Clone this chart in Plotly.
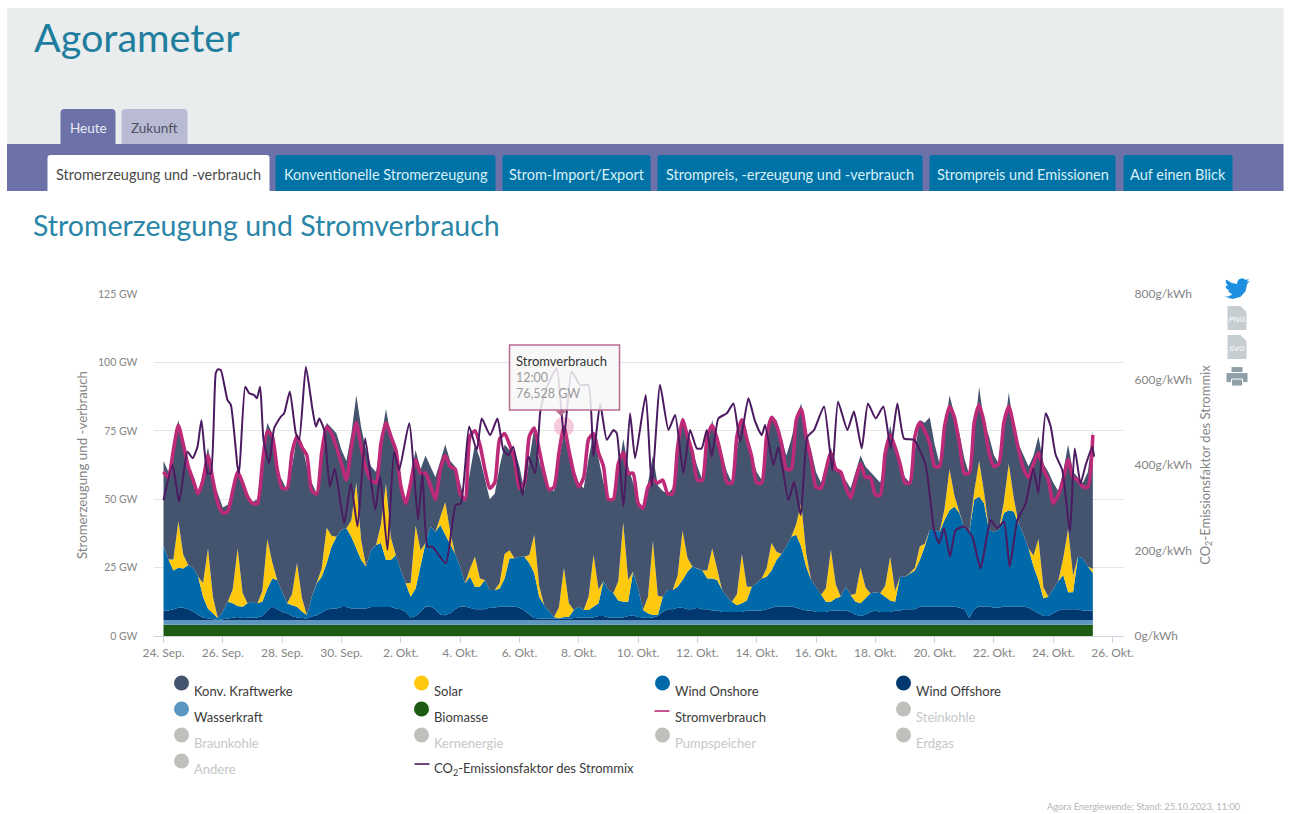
import numpy as np
import pandas as pd
import plotly.graph_objects as go

# the picture shows the page scaled about the window centre; these constants place page pixels
W, H = 1314, 829
S, X0, Y0 = 0.984, -1.5, -1.4
FONT = "Lato"
DARK = "#3a3a3a"

# ---- data, 4-hourly from 24 Sep 2023 00:00, one row per day (GW) ----
start = "2023-09-24 00:00"
gesamt = [
 64,60,70,79,70,62, 57,52,60,69,57,52, 47,48,54,60,57,52, 49,50,65,78,74,60,
 57,53,62,73,70,62, 56,52,65,78,76,74, 68,64,74,88,76,68, 62,60,72,83,73,66,
 55,48,58,68,61,66, 62,58,64,70,64,62, 56,49,60,70,65,57, 50,52,62,70,68,68,
 62,53,65,76,64,58, 54,53,64,74,66,61, 56,54,65,74,65,56, 50,50,60,72,62,56,
 50,46,56,66,55,53, 52,54,66,80,73,68, 62,57,69,79,70,66, 60,56,68,79,70,66,
 60,57,70,80,79,72, 66,72,80,85,74,68, 60,56,62,69,62,60, 57,54,60,66,62,60,
 58,56,66,77,68,62, 58,56,68,79,78,80, 70,63,74,88,81,74, 65,59,74,91,78,73,
 66,63,74,89,76,70, 66,62,66,73,63,60, 56,53,60,70,60,58, 56,60,75]
stromverbrauch = [
 60,58,68,77,70,62, 57,52,57,66,57,48.5, 45,45.5,53,60,56,51, 48.5,48.5,63,75,73,61,
 54,54,67,73,69,66, 53,52,67,76.5,74,69, 63,57,69,78,69,61, 57,56,70.5,78,73,68,
 55,48.5,56,64.5,59.5,59.5, 55,50,61,66,62,61, 52,50,73,75,70,61, 54,56,72,74,70,64.5,
 54,56,73,76,68,59.5, 53.5,54.5,67,76.5,68,59.5, 54.5,58,72,74,67,62, 50,50,63,67,59.5,59.5,
 48.5,46.7,54.5,57,56,57, 52,52,69,79,73,67, 57,57,73,77,72,64.5, 56,56,73,79,72,65.5,
 56,56,73,80,77,70.5, 61,61,79,83,73,64.5, 54.5,54,60.7,67,61,60, 54.5,50.4,57,63,58,58,
 51.6,51.6,67,73.5,69,63, 56,56,73,78,75,70.5, 62,62,76.6,84,80,70.5, 59.5,59.5,78,84.5,78,67,
 62,63,78,84,76.6,68, 61,58,63,67,61,57, 48.5,51.6,57,64.5,58,57, 54.5,54.5,73.5]
onshore_oberkante = [
 33,28,24,25,24.7,26, 25,21.7,14.4,10,8.3,6.5, 9,12.5,12,11,10.7,12, 12.5,12,12.5,17.4,21,20.5,
 16,12,11.3,10.7,9,7.7, 14.4,19.3,21.7,26.6,32.7,36.3, 38.8,39.4,36.3,32,27.8,25.4, 31.5,33.3,34,27.8,27.8,29.6,
 24,19.3,14.4,17.4,25.4,34, 40,38,40.6,37,34,30, 25.4,19.3,21.7,18,18,20.5, 16.8,16.8,17.4,21,28.4,28.4,
 29,29,26.6,23,14.4,11.3, 9,7,6.5,7,7,9.5, 10.7,9.5,9.5,10.7,12,20, 17,15.6,13,12.5,12.5,23.5,
 17.4,9.5,8.3,7.7,7.7,14.4, 16.8,16.8,18,20.5,23.5,25.4, 24.8,24,21,21,20.5,16.8, 14.4,12.5,11.3,12,13,18,
 19.3,21,21.7,24,27.8,30, 32.7,36.3,37,32.7,25.4,20.5, 18,15,12.5,12.5,13.8,14.4, 18,15,12.5,12,13.8,15.6,
 16,15.6,14.4,13,12.5,21.7, 21.7,23,24,27.8,32.7,38.8, 38.8,38,42.4,46,47.3,45, 39.4,38,49.8,51,48.5,38.8,
 38,38.8,45,46,45.5,41, 37,32,25.4,20.5,13.8,14.4, 17.4,20,22.3,16,16,29, 28.4,25.4,23]
solar = [
 0,0,4,17,5,0, 0,0,5,22,6,0, 0,0,5,21,5,0, 0,0,4,18,6,0,
 0,0,4,16,5,0, 0,0,3,13,4,0, 0,0,6,24,7,0, 0,0,7,28,8,0,
 0,0,5,23,6,0, 0,0,3,12,4,0, 0,0,3,11,3,0, 0,0,2,9,3,0,
 0,0,3,14,4,0, 0,0,4,18,5,0, 0,0,5,19,5,0, 0,0,7,29,8,0,
 0,0,6,27,7,0, 0,0,4,18,5,0, 0,0,3,11,4,0, 0,0,4,18,5,0,
 0,0,3,10,3,0, 0,0,4,16,5,0, 0,0,5,19,5,0, 0,0,3,13,4,0,
 0,0,4,16,4,0, 0,0,1,5,1,0, 0,0,4,15,4,0, 0,0,3,13,4,0,
 0,0,4,17,5,0, 0,0,4,15,4,0, 0,0,6,23,6,0, 0,0,1.5]
wind_offshore = [
 3.5,3.5,4,4.5,4.5,4, 3.2,1.9,1,.6,.3,.1, .4,.8,1,1.2,.8,.8, .8,1,1.5,3.5,5,4,
 3,2.5,1.5,1,.7,.6, 1.5,2,3,4,4.5,4.5, 5,5,4.5,4.5,4.5,4.5, 5,5,5,5,5,4.5,
 4,3,1,1.5,3,5, 5,4,2,1.8,2.5,4, 5,5,4.5,4,4,4, 4.5,4.5,5,5,5,5,
 4.5,3.5,2,.8,.6,.6, .6,.5,.5,.5,.5,.8, 1,1,1,1,1.5,1.5, 1,1,1,1,1.5,1.8,
 1.2,1,.8,1,1.5,3, 4,4,4.5,4.5,4,4, 4.5,4,4,3.5,3.5,3, 3,3,3,3,3.5,3.5,
 3.5,3.5,4,4.5,5,5, 5,5,4.5,4,3.5,3.5, 3,3,3,3.5,3.5,3.5, 3.5,3,2,1.5,2,3,
 3.5,3,3,3,3.5,3.5, 4,4,4,5,5,5, 5,5,5,5,5,4.5, 4,.8,4,5,5,5,
 4.5,4.5,5,5,5,5, 5,4.5,3.5,2.5,1.5,1.5, 2.5,3.5,4,4,4,4, 3.5,3.5,3.5]
# daily level of the two flat bands (GW)
biomasse_tag = [4.1,4.0,4.0,4.1,4.1,4.0,4.0,4.0,4.1,4.1,4.1,4.2,4.2,4.0,4.0,4.1,4.1,
                4.2,4.2,4.2,4.2,4.1,4.0,4.0,4.1,4.1,4.1,4.2,4.2,4.1,4.1,4.1]
wasser_tag = [1.7,1.8,1.8,1.7,1.7,1.6,1.6,1.6,1.7,1.7,1.7,1.6,1.6,1.8,1.8,1.7,1.7,
              1.6,1.6,1.6,1.6,1.7,1.8,1.8,1.7,1.7,1.7,1.6,1.6,1.7,1.7,1.7]

# CO2 factor: hours since start, g/kWh
co2_stunden = [0,7.3,12.7,19.4,23.5,27.5,30.7,35.6,38.3,42.3,44.2,46.4,51.8,54.5,59.9,61.2,66.1,69.3,73.4,75.5,78.2,80.9,
 85.5,89.5,94.9,97.6,102.2,107.1,109.8,115.2,120.6,123.3,126,130,134.6,138.6,146.2,151.6,157,163.2,171.3,175.3,181.2,186.6,
 190.7,198.8,206,209.5,213.6,217.6,228.4,236.5,240.6,247.3,253.5,257.5,264.3,270.2,275,279,283,290.4,295.3,300.7,304.7,306.1,
 311.5,318.2,324.1,330.3,337.1,343.8,347.9,353.3,358.7,364.1,366.8,372.2,377.5,381.6,390.2,395.1,401.8,408.6,414,420.7,426.1,
 431.5,435.5,439.6,443.6,449,455.8,461.2,466.5,473.3,478.7,484.1,486.8,493.5,497.6,505.7,510.2,515.6,521,526.4,534.5,541.2,
 545.8,553.4,558.7,565,570,576.3,582.5,588.4,593.8,599.2,607.3,616.7,623.5,627.5,631.6,636.4,641,647.7,654.5,661.2,669.3,
 674.7,680.1,684.7,690.9,697.6,703.8,707.9,713.8,717.9,721.9,727.3,733.5,737.3,742.1,746.2,751.6,753]
co2_werte = [318,400,314,431,416,443,505,381,381,615,624,622,552,541,396,381,583,568,564,556,583,459,
 404,486,513,521,572,474,459,630,529,490,509,482,349,392,264,357,256,463,295,373,201,431,
 388,498,271,381,209,209,170,307,310,490,435,509,470,509,435,423,443,330,420,381,521,544,
 591,626,466,619,587,587,420,544,459,482,474,303,521,416,564,349,587,482,517,381,482,
 439,439,482,420,509,521,544,455,556,502,470,494,400,443,318,361,283,466,482,537,388,
 548,482,525,439,544,509,537,439,544,462,459,400,248,217,252,186,248,256,232,158,271,
 252,268,162,271,310,392,334,521,490,424,388,244,439,357,400,443,420]

x_tick_datum = ["2023-09-24","2023-09-26","2023-09-28","2023-09-30","2023-10-02","2023-10-04","2023-10-06","2023-10-08",
                "2023-10-10","2023-10-12","2023-10-14","2023-10-16","2023-10-18","2023-10-20","2023-10-22","2023-10-24","2023-10-26"]
x_tick_text = ["24. Sep.","26. Sep.","28. Sep.","30. Sep.","2. Okt.","4. Okt.","6. Okt.","8. Okt.",
               "10. Okt.","12. Okt.","14. Okt.","16. Okt.","18. Okt.","20. Okt.","22. Okt.","24. Okt.","26. Okt."]
y_ticks = [0,25,50,75,100,125]
y_tick_text = ["0 GW","25 GW","50 GW","75 GW","100 GW","125 GW"]
y2_ticks = [0,200,400,600,800]
y2_tick_text = ["0g/kWh","200g/kWh","400g/kWh","600g/kWh","800g/kWh"]
hover_zeit = ["2023-10-07 12:00"]
hover_wert = [76.528]
tabs_oben = [("Heute", 60, 115, "#6c71a8", "#e8ecf4"), ("Zukunft", 121, 187, "#b9bbd5", "#4d5060")]
tabs_unten = [("Stromerzeugung und -verbrauch", 47, 269), ("Konventionelle Stromerzeugung", 275, 495),
              ("Strom-Import/Export", 502, 650), ("Strompreis, -erzeugung und -verbrauch", 657, 922),
              ("Strompreis und Emissionen", 929, 1115), ("Auf einen Blick", 1123, 1232)]
legende = [
 ("Konv. Kraftwerke", 181, 683, "#44546e", True), ("Solar", 421, 683, "#ffc90e", True),
 ("Wind Onshore", 662, 683, "#0069aa", True), ("Wind Offshore", 903, 683, "#00386f", True),
 ("Wasserkraft", 181, 709, "#5b96c0", True), ("Biomasse", 421, 709, "#1e5c14", True),
 ("Steinkohle", 903, 709, "#bfc0bc", False), ("Braunkohle", 181, 735, "#bfc0bc", False),
 ("Kernenergie", 421, 735, "#bfc0bc", False), ("Pumpspeicher", 662, 735, "#bfc0bc", False),
 ("Erdgas", 903, 735, "#bfc0bc", False), ("Andere", 181, 761, "#bfc0bc", False)]

# ---- derived ----
zeit = pd.date_range(start, periods=len(gesamt), freq="4h")
biomasse = np.repeat(biomasse_tag, 6)[:len(zeit)]
wasser = np.repeat(wasser_tag, 6)[:len(zeit)]
offshore = np.array(wind_offshore, float)
onshore = np.maximum(np.array(onshore_oberkante, float) - biomasse - wasser - offshore, 0)
solar_a = np.array(solar, float)
konv = np.array(gesamt, float) - biomasse - wasser - offshore - onshore - solar_a
co2_zeit = pd.Timestamp(start) + pd.to_timedelta(co2_stunden, unit="h")

fx = lambda p: (p - X0) / (S * W)
fy = lambda p: 1 - ((p - (636 - p) / 486) - Y0) / (S * H)

fig = go.Figure()
for name, vals, col in [("Biomasse", biomasse, "#1e5c14"), ("Wasserkraft", wasser, "#5b96c0"),
                        ("Wind Offshore", offshore, "#00386f"), ("Wind Onshore", onshore, "#0069aa"),
                        ("Solar", solar_a, "#ffc90e"), ("Konv. Kraftwerke", konv, "#44546e")]:
    fig.add_trace(go.Scatter(x=zeit, y=vals, name=name, stackgroup="erz", mode="lines",
                             line=dict(width=0, color=col), fillcolor=col))
fig.add_trace(go.Scatter(x=zeit, y=stromverbrauch, name="Stromverbrauch", mode="lines",
                         line=dict(color="#bd2a78", width=3.6, shape="spline", smoothing=0.6)))
fig.add_trace(go.Scatter(x=co2_zeit, y=co2_werte, name="CO2-Emissionsfaktor des Strommix", mode="lines", yaxis="y2",
                         line=dict(color="#4b1a60", width=2, shape="spline", smoothing=0.5)))
fig.add_trace(go.Scatter(x=hover_zeit, y=hover_wert, mode="markers", showlegend=False,
                         marker=dict(size=20, color="rgba(225,90,150,0.32)", line=dict(width=0))))

shapes, ann = [], []
def rect(x0, y0, x1, y1, col, layer="below", line=None):
    shapes.append(dict(type="rect", xref="paper", yref="paper", x0=fx(x0), x1=fx(x1), y0=fy(y0), y1=fy(y1),
                       fillcolor=col, layer=layer, line=line or dict(width=0)))
def path(points, col, layer="below", close=True):
    d = "M " + " L ".join(f"{fx(a):.5f},{fy(b):.5f}" for a, b in points) + (" Z" if close else "")
    shapes.append(dict(type="path", xref="paper", yref="paper", path=d, fillcolor=col, layer=layer, line=dict(width=0)))
def tab(x0, x1, y0, y1, col, r=4):
    d = (f"M {fx(x0)},{fy(y1)} L {fx(x0)},{fy(y0+r)} Q {fx(x0)},{fy(y0)} {fx(x0+r)},{fy(y0)} "
         f"L {fx(x1-r)},{fy(y0)} Q {fx(x1)},{fy(y0)} {fx(x1)},{fy(y0+r)} L {fx(x1)},{fy(y1)} Z")
    shapes.append(dict(type="path", xref="paper", yref="paper", path=d, fillcolor=col, layer="below", line=dict(width=0)))
PAD = {"left": -2.5, "right": 2, "center": 0}
def text(s, x, y, size, col, anchor="left", angle=0, family=FONT, **kw):
    ann.append(dict(text=s, x=fx(x + PAD[anchor]), y=fy(y), xref="paper", yref="paper", xanchor=anchor, yanchor="middle",
                    showarrow=False, textangle=angle, font=dict(size=size, color=col, family=family), **kw))
def circle(cx, cy, r, col, layer="below"):
    shapes.append(dict(type="circle", xref="paper", yref="paper", x0=fx(cx-r), x1=fx(cx+r), y0=fy(cy-r), y1=fy(cy+r),
                       fillcolor=col, layer=layer, line=dict(width=0)))

# page header
rect(6.5, 8, 1283, 144, "#e9eded")
rect(6.5, 144, 1283, 191, "#6c71a8")
text("Agorameter", 34, 36, 39.5, "#1f7d9e")
for name, a, b, col, tc in tabs_oben:
    tab(a, b, 109, 144, col)
    text(name, (a+b)/2, 128, 13.5, tc, anchor="center")
for i, (name, a, b) in enumerate(tabs_unten):
    tab(a, b, 155, 191, "#ffffff" if i == 0 else "#0072a6", r=3)
    text(name, (a+b)/2, 174, 14.5, "#4a4a4a" if i == 0 else "#d5f0f6", anchor="center")
text("Stromerzeugung und Stromverbrauch", 33, 225, 28.5, "#2a86a8")

# icons
bird = [(24,4.6),(21.1,5.3),(23.3,2.6),(20.2,3.8),(18.5,2.5),(16.5,2.0),(13.5,3.2),(12,6),(12.1,7.6),(7,6.5),(1.6,3.2),(1,5.6),
        (3.2,9.7),(0.9,9.1),(1.4,11.5),(4.9,14),(2.7,14),(7.3,17.5),(3.5,19.4),(0,19.5),(7.5,21.8),(15,20),(20,14.5),(21.5,7.5)]
path([(1224+a*1.05, 276+b*1.05) for a, b in bird], "#1d8fe0")
for y0, lab in [(306, "PNG"), (335, "SVG")]:
    path([(1227,y0),(1240,y0),(1246,y0+6),(1246,y0+24),(1227,y0+24)], "#c7ced2")
    text(lab, 1236.5, y0+13, 7.5, "#ffffff", anchor="center", family="Liberation Sans")
rect(1231, 367, 1242, 372, "#8fa0a8")
rect(1226, 373, 1247, 382, "#8fa0a8")
rect(1231, 379, 1242, 386, "#8fa0a8", line=dict(color="#ffffff", width=1))

# legend
for name, cx, cy, col, aktiv in legende:
    circle(cx, cy, 7.5, col)
    text(name, cx + 12.5, cy + 8, 13, DARK if aktiv else "#c6c8c6")
path([(654,710.2),(669,710.2),(669,711.8),(654,711.8)], "#bd2a78")
text("Stromverbrauch", 675, 717, 13, DARK)
path([(414,763.2),(429,763.2),(429,764.8),(414,764.8)], "#4b1a60")
text("CO<sub>2</sub>-Emissionsfaktor des Strommix", 434, 769, 13, DARK)

# tooltip
rect(509, 345, 619, 410, "rgba(247,247,247,0.86)", layer="above", line=dict(color="#b86a90", width=1.5))
path([(555,410.8),(566,410.8),(560.5,416)], "#b86a90", layer="above")
text("Stromverbrauch", 516, 361, 13, "#333333")
text("12:00", 516, 377, 12.5, "#9a9a9a")
text("76,528 GW", 516, 393, 12.5, "#9a9a9a")

# footer
text("Agora Energiewende; Stand: 25.10.2023, 11:00", 1240, 806, 9.3, "#b5b5b5", anchor="right")

tick_font = dict(size=12, color="#858585", family=FONT)
fig.update_layout(
    width=W, height=H, margin=dict(l=0, r=0, t=0, b=0), paper_bgcolor="#ffffff", plot_bgcolor="rgba(0,0,0,0)",
    showlegend=False, shapes=shapes, annotations=ann,
    xaxis=dict(domain=[fx(153), fx(1123)], range=["2023-09-23 15:54", "2023-10-26 08:50"], type="date",
               tickmode="array", tickvals=x_tick_datum, ticktext=x_tick_text, tickfont=tick_font, tickangle=0,
               ticks="outside", ticklen=6, tickcolor="#ccd6e0", showgrid=False, showline=True, linecolor="#ccd6e0", zeroline=False),
    yaxis=dict(domain=[fy(636), fy(294)], range=[0, 125], tickmode="array", tickvals=y_ticks, ticktext=y_tick_text,
               tickfont=dict(size=10.5, color="#858585", family=FONT), gridcolor="#e3e6e6", gridwidth=1, zeroline=False,
               ticklabelstandoff=15, ticks="",
               title=dict(text="Stromerzeugung und -verbrauch", font=dict(size=13.3, color="#858585", family=FONT), standoff=7)),
    yaxis2=dict(domain=[fy(636), fy(294)], range=[0, 800], overlaying="y", side="right", anchor="x", tickmode="array",
                tickvals=y2_ticks, ticktext=y2_tick_text, tickfont=tick_font, showgrid=False, zeroline=False,
                ticklabelstandoff=10, ticks="",
                title=dict(text="CO<sub>2</sub>-Emissionsfaktor des Strommix", font=dict(size=13, color="#858585", family=FONT), standoff=9)),
)
fig.write_html("out.html", config=dict(displayModeBar=False),
               post_script="document.body.style.margin='-8px 0 0 -12px';document.documentElement.style.overflow='hidden';")
